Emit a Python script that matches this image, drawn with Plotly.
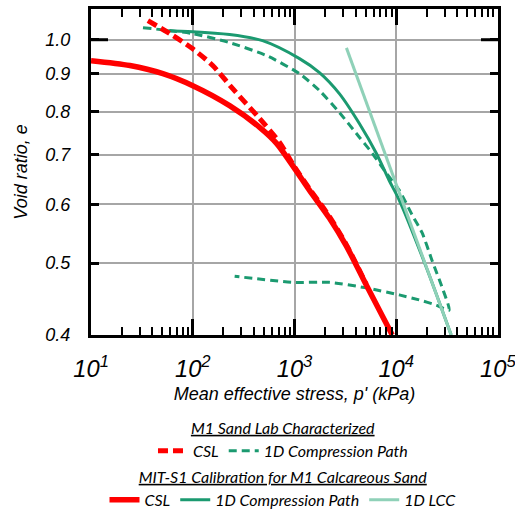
import plotly.graph_objects as go

# ---- data ----
p_csl_model = [10, 24.1, 50.8, 100, 230, 454, 666, 1000, 1400, 2200, 3240, 5080, 9140]
e_csl_model = [0.937, 0.923, 0.900, 0.867, 0.815, 0.762, 0.725, 0.671, 0.627, 0.575, 0.527, 0.467, 0.400]

p_csl_lab = [36.2, 59.6, 100, 157, 247, 454, 713, 1000, 1400, 2200, 3240, 5080]
e_csl_lab = [1.061, 1.019, 0.972, 0.923, 0.859, 0.783, 0.727, 0.674, 0.630, 0.578, 0.529, 0.468]

p_1d_model = [50.8, 100, 230, 485, 1120, 1760, 2760, 4340, 6370, 8530, 10700, 19700, 34700]
e_1d_model = [1.028, 1.025, 1.016, 0.997, 0.943, 0.903, 0.846, 0.771, 0.703, 0.646, 0.608, 0.494, 0.400]

p_1d_lab = [32.4, 100, 230, 531, 1120, 1760, 2760, 4340, 5820, 7980, 10700, 14400, 18000, 22500,
            28200, 33100, 24700, 16800, 10700, 5080, 2200, 955, 258]
e_1d_lab = [1.038, 1.019, 0.991, 0.952, 0.900, 0.854, 0.798, 0.739, 0.703, 0.661, 0.627, 0.580, 0.549, 0.504,
            0.464, 0.432, 0.439, 0.446, 0.453, 0.463, 0.471, 0.471, 0.480]

p_lcc = [3240, 34700]
e_lcc = [0.975, 0.400]

x_label_alias = {"10": "10<sup>1</sup>"}
y_tick_vals = [0.4, 0.5, 0.6, 0.7, 0.8, 0.9, 1.0]
y_tick_text = ["0.4", "0.5", "0.6", "0.7", "0.8", "0.9", "1.0"]
y_long_tick = 1.0

RED = "#ff0000"
GREEN = "#1b9a70"
LIGHT = "#8fd1b8"
LEGFONT = dict(family="Lato", size=16, style="italic", color="black")
XR = [0.9995, 5.0005]
YR = [-0.39794, 0.0414]

fig = go.Figure()
fig.add_trace(go.Scatter(x=p_1d_lab, y=e_1d_lab, mode="lines", name="1D Compression Path",
                         line=dict(color=GREEN, width=3, dash="8px,5px", shape="spline", smoothing=0.6),
                         legend="legend", legendrank=2))
fig.add_trace(go.Scatter(x=p_1d_model, y=e_1d_model, mode="lines", name="1D Compression Path",
                         line=dict(color=GREEN, width=3, shape="spline", smoothing=0.8),
                         legend="legend2", legendrank=2))
fig.add_trace(go.Scatter(x=p_lcc, y=e_lcc, mode="lines", name="1D LCC",
                         line=dict(color=LIGHT, width=3), legend="legend2", legendrank=3))
fig.add_trace(go.Scatter(x=p_csl_lab, y=e_csl_lab, mode="lines", name="CSL",
                         line=dict(color=RED, width=5, dash="10px,5px", shape="spline", smoothing=0.8),
                         legend="legend", legendrank=1))
fig.add_trace(go.Scatter(x=p_csl_model, y=e_csl_model, mode="lines", name="CSL",
                         line=dict(color=RED, width=5.5, shape="spline", smoothing=0.8),
                         legend="legend2", legendrank=1))

xtickfont = dict(family="Liberation Sans", size=19, style="italic", color="black")
ytickfont = dict(family="Liberation Sans", size=18, style="italic", color="black")
titlefont = dict(family="Liberation Sans", size=18, style="italic", color="black")

# longer tick at e = 1.0 on both sides of the frame
for x0, x1 in [(0, 17 / 407), (1 - 17 / 407, 1)]:
    fig.add_shape(type="line", xref="x domain", yref="y", x0=x0, x1=x1,
                  y0=y_long_tick, y1=y_long_tick, line=dict(color="black", width=3), layer="above")

fig.update_layout(
    width=515, height=511,
    margin=dict(l=91, r=17, t=9, b=176, autoexpand=False),
    paper_bgcolor="white", plot_bgcolor="white",
    xaxis=dict(type="log", range=XR, tickmode="linear", tick0=0, dtick=1,
               exponentformat="power", labelalias=x_label_alias, ticklabeloverflow="allow",
               showline=True, linewidth=3, linecolor="black", mirror="allticks",
               ticks="inside", ticklen=16, tickwidth=3, tickcolor="black",
               minor=dict(ticks="inside", ticklen=8, tickwidth=2, tickcolor="black", showgrid=False),
               showgrid=True, gridcolor="#a6a6a6", gridwidth=1.5,
               tickfont=xtickfont, ticklabelstandoff=11,
               title=dict(text="Mean effective stress, p' (kPa)", font=titlefont, standoff=7),
               zeroline=False),
    yaxis=dict(type="log", range=YR,
               tickmode="array", tickvals=y_tick_vals, ticktext=y_tick_text,
               showline=True, linewidth=3, linecolor="black", mirror="allticks",
               ticks="inside", ticklen=8, tickwidth=3, tickcolor="black",
               showgrid=True, gridcolor="#a6a6a6", gridwidth=1.5,
               tickfont=ytickfont, ticklabelstandoff=14,
               title=dict(text="Void ratio, e", font=titlefont, standoff=14),
               zeroline=False),
    legend=dict(orientation="h", xref="container", yref="container",
                x=0.5495, xanchor="center", y=0.1918, yanchor="top",
                title=dict(text="M1 Sand Lab Characterized", side="top center",
                           font=dict(family="Lato", size=16, style="italic", color="black",
                                     lineposition="under")),
                font=LEGFONT, bgcolor="rgba(0,0,0,0)", itemwidth=30, traceorder="normal"),
    legend2=dict(orientation="h", xref="container", yref="container",
                 x=0.5495, xanchor="center", y=0.0959, yanchor="top",
                 title=dict(text="MIT-S1 Calibration for M1 Calcareous Sand", side="top center",
                            font=dict(family="Lato", size=16, style="italic", color="black",
                                      lineposition="under")),
                 font=LEGFONT, bgcolor="rgba(0,0,0,0)", itemwidth=30, traceorder="normal"),
)

fig.write_html("out.html")
